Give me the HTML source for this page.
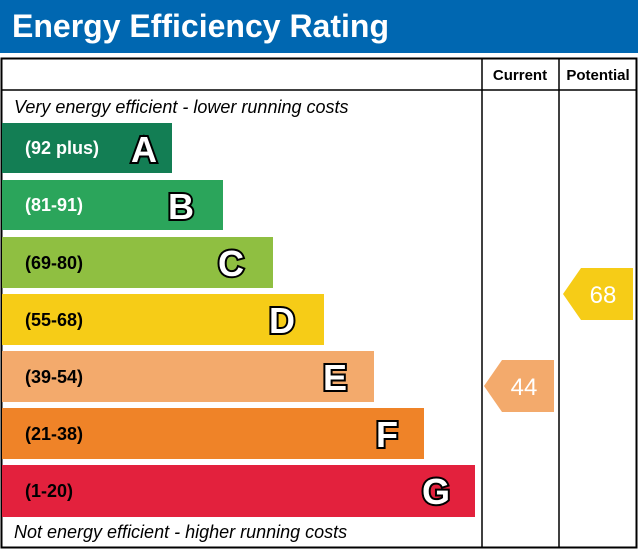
<!DOCTYPE html>
<html><head><meta charset="utf-8"><style>body{margin:0;background:#fff}svg{display:block}</style></head><body>
<svg width="638" height="550" xmlns="http://www.w3.org/2000/svg" font-family="Liberation Sans, Arial, sans-serif">
<rect x="0" y="0" width="638" height="53" fill="#0067b1"/>
<text x="12" y="37" font-size="32" font-weight="bold" fill="#fff">Energy Efficiency Rating</text>
<rect x="1.5" y="58.5" width="635" height="489" fill="#fff" stroke="#000" stroke-width="2"/>
<line x1="1" y1="90" x2="637" y2="90" stroke="#000" stroke-width="1.5"/>
<line x1="482" y1="58" x2="482" y2="548" stroke="#000" stroke-width="1.5"/>
<line x1="559" y1="58" x2="559" y2="548" stroke="#000" stroke-width="1.5"/>
<text x="520" y="80" font-size="15" font-weight="bold" text-anchor="middle">Current</text>
<text x="598" y="80" font-size="15" font-weight="bold" text-anchor="middle">Potential</text>
<text x="14" y="113" font-size="18" font-style="italic">Very energy efficient - lower running costs</text>
<text x="14" y="538" font-size="18" font-style="italic">Not energy efficient - higher running costs</text>
<g font-weight="bold">
<rect x="2" y="123" width="170" height="50" fill="#137e54"/>
<text x="25" y="154" font-size="18" fill="#fff">(92 plus)</text>
<rect x="2" y="180" width="221" height="50" fill="#2ba55b"/>
<text x="25" y="211" font-size="18" fill="#fff">(81-91)</text>
<rect x="2" y="237" width="271" height="51" fill="#8fbf41"/>
<text x="25" y="269" font-size="18" fill="#000">(69-80)</text>
<rect x="2" y="294" width="322" height="51" fill="#f6cc17"/>
<text x="25" y="326" font-size="18" fill="#000">(55-68)</text>
<rect x="2" y="351" width="372" height="51" fill="#f3aa6c"/>
<text x="25" y="383" font-size="18" fill="#000">(39-54)</text>
<rect x="2" y="408" width="422" height="51" fill="#ef8328"/>
<text x="25" y="440" font-size="18" fill="#000">(21-38)</text>
<rect x="2" y="465" width="473" height="52" fill="#e3213d"/>
<text x="25" y="497" font-size="18" fill="#000">(1-20)</text>
<g font-size="36" fill="#fff" stroke="#000" stroke-width="4" paint-order="stroke" text-anchor="middle">
<text x="144" y="162">A</text>
<text x="181" y="219">B</text>
<text x="231" y="276">C</text>
<text x="282" y="333">D</text>
<text x="335" y="390">E</text>
<text x="387" y="447">F</text>
<text x="436" y="504">G</text>
</g>
</g>
<polygon points="484,386 502,360 554,360 554,412 502,412" fill="#f3aa6c"/>
<text x="524" y="395" font-size="24" fill="#fff" text-anchor="middle">44</text>
<polygon points="563,294 581,268 633,268 633,320 581,320" fill="#f6cc17"/>
<text x="603" y="303" font-size="24" fill="#fff" text-anchor="middle">68</text>
</svg>
</body></html>
